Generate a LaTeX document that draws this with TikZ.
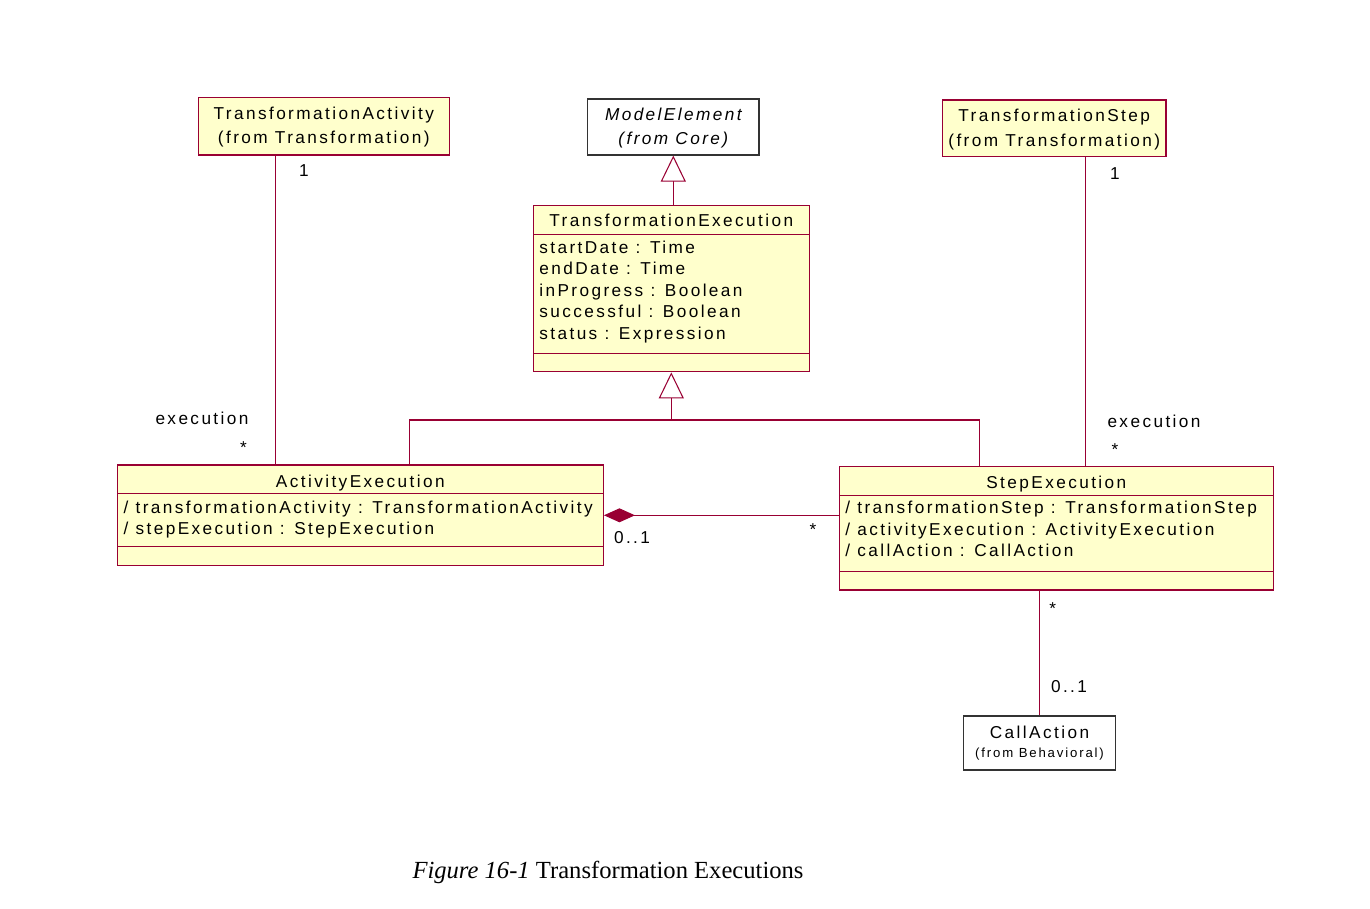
\documentclass[tikz,border=0pt]{standalone}
\usepackage{fontspec}
\setmainfont{Liberation Serif}
\newfontfamily\umlsans[LetterSpace=14]{Liberation Sans}
\usepackage{tikz}
\usetikzlibrary{positioning,calc,arrows.meta}
\usepackage{xcolor}

\definecolor{umlfill}{HTML}{FFFFCC}
\definecolor{umlline}{HTML}{990033}

\begin{document}
\begin{tikzpicture}[x=0.02cm,y=-0.02cm,
    cls/.style={rectangle,draw=umlline,fill=umlfill,line width=0.8pt,inner sep=0pt},
    ext/.style={rectangle,draw=black!80,fill=white,line width=0.7pt,inner sep=0pt},
    txt/.style={inner sep=0pt,font=\umlsans\fontsize{9.8}{12}\selectfont},
    small/.style={inner sep=0pt,font=\umlsans\fontsize{7.5}{9}\selectfont},
    divider/.style={draw=umlline,line width=0.6pt},
    assoc/.style={draw=umlline,line width=0.6pt},
    inherit/.style={assoc,-{Triangle[length=0.52cm,width=0.5cm,fill=white]}},
    comp/.style={assoc,-{Diamond[length=0.62cm,width=0.28cm,fill=umlline]}}]

\useasboundingbox (0,0) rectangle (1370,909);

% imported classes
\node[cls,minimum width=5.02cm,minimum height=1.154cm] (ta) at (323.8,126.2) {};
\node[txt,anchor=base] at (323.8,119.3) {TransformationActivity};
\node[txt,anchor=base] at (323.8,143.3) {(from Transformation)};

\node[ext,minimum width=3.426cm,minimum height=1.12cm] (me) at (673.3,127) {};
\node[txt,anchor=base] at (673.3,120.7) {\itshape ModelElement};
\node[txt,anchor=base] at (673.3,145) {\itshape (from Core)};

\node[cls,minimum width=4.474cm,minimum height=1.134cm] (ts) at (1054.2,128.3) {};
\node[txt,anchor=base] at (1054.2,121.7) {TransformationStep};
\node[txt,anchor=base] at (1054.2,146.7) {(from Transformation)};

% TransformationExecution
\node[cls,minimum width=5.52cm,minimum height=3.32cm] (te) at (671.3,288.7) {};
\node[txt,anchor=base] at (671.3,226.7) {TransformationExecution};
\draw[divider] (533.3,234.3) -- (809.3,234.3);
\draw[divider] (533.3,353.3) -- (809.3,353.3);
\foreach \attr [count=\i] in {{startDate : Time},{endDate : Time},{inProgress : Boolean},{successful : Boolean},{status : Expression}}
  \node[txt,anchor=base west] at (539,{253.3+21.5*(\i-1)}) {\attr};

% ActivityExecution
\node[cls,minimum width=9.72cm,minimum height=2.014cm] (ae) at (360.3,515.3) {};
\node[txt,anchor=base] at (360.3,487.3) {ActivityExecution};
\draw[divider] (117.3,493.3) -- (603.3,493.3);
\draw[divider] (117.3,546.7) -- (603.3,546.7);
\foreach \attr [count=\i] in {{/ transformationActivity : TransformationActivity},{/ stepExecution : StepExecution}}
  \node[txt,anchor=base west] at (123.3,{513.3+21*(\i-1)}) {\attr};

% StepExecution
\node[cls,minimum width=8.68cm,minimum height=2.466cm] (se) at (1056.3,528.3) {};
\node[txt,anchor=base] at (1056.3,488.3) {StepExecution};
\draw[divider] (839.3,495.7) -- (1273.3,495.7);
\draw[divider] (839.3,571.7) -- (1273.3,571.7);
\foreach \attr [count=\i] in {{/ transformationStep : TransformationStep},{/ activityExecution : ActivityExecution},{/ callAction : CallAction}}
  \node[txt,anchor=base west] at (845,{513.3+21.7*(\i-1)}) {\attr};

% CallAction
\node[ext,minimum width=3.048cm,minimum height=1.08cm] (ca) at (1039.5,743) {};
\node[txt,anchor=base] at (1039.5,738.3) {CallAction};
\node[small,anchor=base] at (1039.5,757.3) {(from Behavioral)};

% connectors
\coordinate (actLine) at (275.3,300);
\coordinate (stepLine) at (1085.7,300);
\coordinate (genL) at (409.5,420);
\coordinate (genR) at (979.3,420);

\draw[inherit] (te.north -| me.south) -- (me.south);
\draw[assoc] (ae.north -| genL) -- (genL) -- (genR) -- (se.north -| genR);
\draw[inherit] (genL -| te.south) -- (te.south);
\draw[assoc] (ta.south -| actLine) -- (ae.north -| actLine);
\draw[assoc] (ts.south -| stepLine) -- (se.north -| stepLine);
\draw[comp] (ae.east -| se.west) -- (ae.east);
\draw[assoc] (se.south -| ca.north) -- (ca.north);

% multiplicities and roles
\node[txt,anchor=base] (mTa) at (304,176.2) {1};
\node[txt,anchor=base] (rAe) at (202,424) {execution};
\node[txt,anchor=base] (mAe) at (243.5,453) {*};
\node[txt,anchor=base] (mTs) at (1115,179.5) {1};
\node[txt,anchor=base] (rSe) at (1154,427.3) {execution};
\node[txt,anchor=base] (mSe) at (1115,455.5) {*};
\node[txt,anchor=base] (mOwn) at (632,543) {0..1};
\node[txt,anchor=base] (mPart) at (813,535) {*};
\node[txt,anchor=base] (mCall) at (1052.7,614) {*};
\node[txt,anchor=base] (mCa) at (1069,692.7) {0..1};

\node[anchor=base,inner sep=0pt,font=\fontsize{14}{16}\selectfont] (caption) at (608,878.3) {\textit{Figure 16-1} Transformation Executions};

\end{tikzpicture}
\end{document}
